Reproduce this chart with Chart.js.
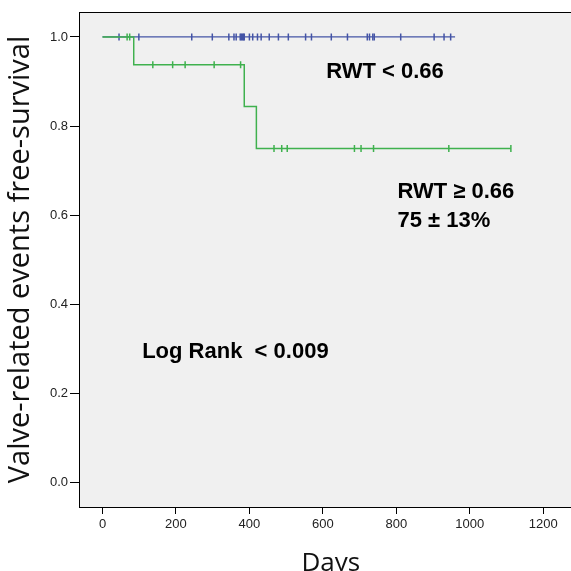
<!DOCTYPE html>
<html>
<head>
<meta charset="utf-8">
<script src="https://cdn.jsdelivr.net/npm/chart.js@4/dist/chart.umd.min.js"></script>
<style>
  html, body { margin: 0; padding: 0; background: #fff; overflow: hidden; }
  #wrap { width: 571px; height: 571px; overflow: hidden; position: relative; }
  canvas { display: block; }
</style>
</head>
<body>
<div id="wrap"><canvas id="km" width="588" height="571"></canvas></div>
<script>
// Kaplan-Meier steps (days / survival)
const lowDays = [0, 960];
const lowSurv = [1.0, 1.0];
const highDays = [0, 85, 386, 419, 1112];
const highSurv = [1.0, 0.9375, 0.844, 0.75, 0.75];

// censored observations (days)
const lowCensored = [45, 99, 243, 299, 344, 358, 364, 375, 378, 381, 384, 386, 400, 409, 422, 432,
  454, 479, 506, 553, 569, 623, 667, 721, 727, 736, 740, 812, 903, 930, 948];
const highCensored = [67, 74, 137, 191, 225, 304, 376, 467, 488, 503, 686, 704, 738, 943, 1112];

const xTickValues = [0, 200, 400, 600, 800, 1000, 1200];
const yTickValues = [0, 0.2, 0.4, 0.6, 0.8, 1.0];

const BLUE = "#4454a6";
const GREEN = "#3fb14e";

function survAt(days, surv, t) {
  let s = surv[0];
  for (let i = 0; i < days.length; i++) if (days[i] <= t) s = surv[i];
  return s;
}

function pts(xs, ys) {
  return xs.map((x, i) => ({ x: x, y: ys[i] }));
}

const plotFrame = {
  id: "plotFrame",
  beforeDraw(chart) {
    const { ctx, chartArea: a } = chart;
    ctx.save();
    ctx.fillStyle = "#f0f0f0";
    ctx.fillRect(a.left, a.top, a.right - a.left, a.bottom - a.top);
    ctx.strokeStyle = "#000";
    ctx.lineWidth = 1;
    ctx.beginPath();
    ctx.moveTo(a.left, a.top + 0.5);
    ctx.lineTo(a.right, a.top + 0.5);
    ctx.stroke();
    ctx.restore();
  },
};

const notes = [
  { text: "RWT < 0.66", x: 609, y: 0.908, size: 22 },
  { text: "RWT \u2265 0.66", x: 803, y: 0.638, size: 22 },
  { text: "75 \u00b1 13%", x: 803, y: 0.575, size: 22 },
  { text: "Log Rank  < 0.009", x: 108, y: 0.28, size: 22 },
];

const noteText = {
  id: "noteText",
  afterDatasetsDraw(chart) {
    const { ctx, scales } = chart;
    ctx.save();
    ctx.fillStyle = "#000";
    ctx.textAlign = "left";
    ctx.textBaseline = "alphabetic";
    notes.forEach((n) => {
      ctx.font = `bold ${n.size}px "Liberation Sans", Arial, sans-serif`;
      ctx.fillText(n.text, scales.x.getPixelForValue(n.x), scales.y.getPixelForValue(n.y));
    });
    ctx.restore();
  },
};

const tickFont = { family: "'Liberation Sans', Arial, sans-serif", size: 13 };

new Chart(document.getElementById("km"), {
  type: "line",
  data: {
    datasets: [
      {
        label: "RWT >= 0.66 censored",
        type: "scatter",
        data: highCensored.map((d) => ({ x: d, y: survAt(highDays, highSurv, d) })),
        pointStyle: "line",
        rotation: 90,
        radius: 3.5,
        borderColor: GREEN,
        borderWidth: 1.5,
        order: 0,
      },
      {
        label: "RWT >= 0.66",
        data: pts(highDays, highSurv),
        stepped: true,
        borderColor: GREEN,
        borderWidth: 1.5,
        pointRadius: 0,
        fill: false,
        order: 1,
      },
      {
        label: "RWT < 0.66 censored",
        type: "scatter",
        data: lowCensored.map((d) => ({ x: d, y: survAt(lowDays, lowSurv, d) })),
        pointStyle: "line",
        rotation: 90,
        radius: 3.5,
        borderColor: BLUE,
        borderWidth: 1.5,
        order: 2,
      },
      {
        label: "RWT < 0.66",
        data: pts(lowDays, lowSurv),
        stepped: true,
        borderColor: BLUE,
        borderWidth: 1.3,
        pointRadius: 0,
        fill: false,
        order: 3,
      },
    ],
  },
  options: {
    responsive: false,
    animation: false,
    layout: { padding: { top: 12, left: 0, right: 0, bottom: 0 } },
    plugins: { legend: { display: false }, tooltip: { enabled: false } },
    scales: {
      x: {
        type: "linear",
        min: -64,
        max: 1307,
        afterBuildTicks: (s) => { s.ticks = xTickValues.map((v) => ({ value: v })); },
        afterFit: (s) => { s.height = 64; },
        grid: { drawOnChartArea: false, drawTicks: true, tickLength: 7, color: "#000" },
        border: { color: "#000", width: 1 },
        ticks: { font: tickFont, color: "#222", padding: 3, maxRotation: 0, callback: (v) => String(v) },
        title: {
          display: true,
          text: "Days",
          color: "#111",
          font: { family: "'Open Sans', sans-serif", size: 26 },
          padding: { top: 0, bottom: -8 },
        },
      },
      y: {
        type: "linear",
        min: -0.054,
        max: 1.056,
        afterBuildTicks: (s) => { s.ticks = yTickValues.map((v) => ({ value: v })); },
        afterFit: (s) => { s.width = 79; },
        grid: { drawOnChartArea: false, drawTicks: true, tickLength: 9, color: "#000" },
        border: { color: "#000", width: 1 },
        ticks: { font: tickFont, color: "#222", padding: 2, callback: (v) => v.toFixed(1) },
        title: {
          display: true,
          text: "Valve-related events free-survival",
          color: "#111",
          font: { family: "'Open Sans', sans-serif", size: 29 },
          padding: { top: 3, bottom: 0 },
        },
      },
    },
  },
  plugins: [plotFrame, noteText],
});
</script>
</body>
</html>
